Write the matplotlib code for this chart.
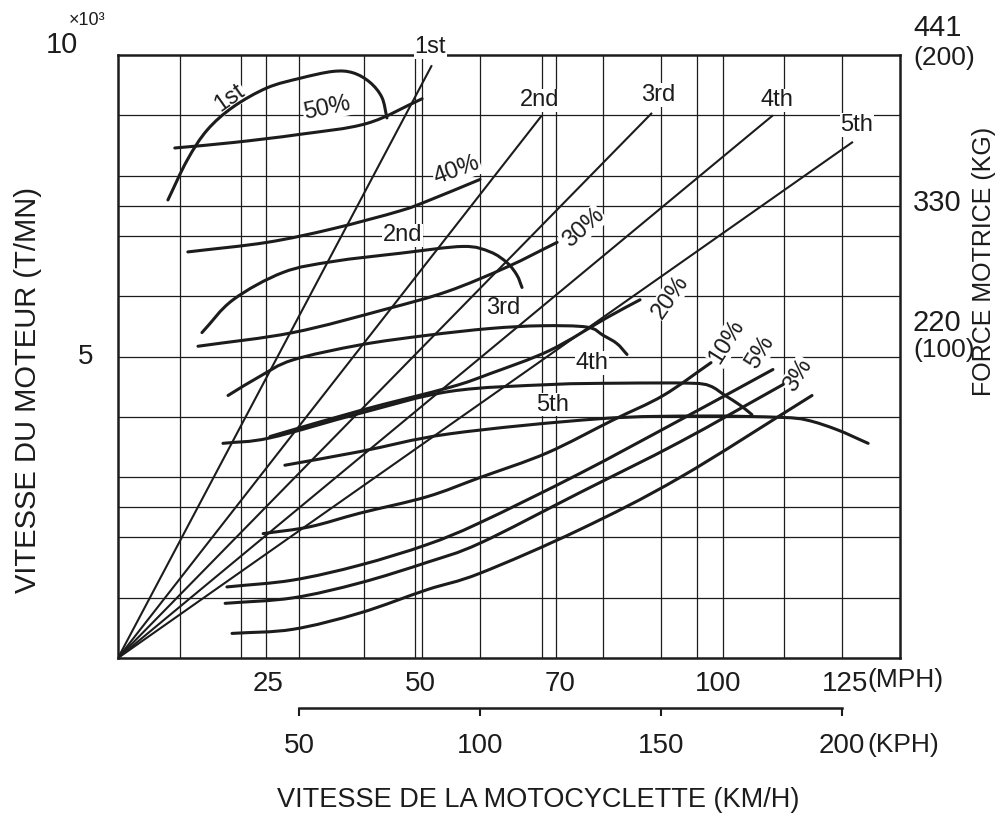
import numpy as np
import matplotlib.pyplot as plt
from matplotlib.path import Path
from matplotlib.patches import PathPatch
import matplotlib.transforms as mtransforms

plt.rcParams['font.family'] = ['Liberation Sans', 'DejaVu Sans']

# speed in km/h, engine speed in 1000 rpm, driving force in kg
gear_names = ['1st', '2nd', '3rd', '4th', '5th']
gear_top_kph = [86.7, 117.1, 147.5, 180.9, 203.0]
gear_top_rpm = [9.83, 9.0, 9.04, 9.0, 8.56]

# driving force curve for each gear
f1_kph = [13.8, 19.1, 24.6, 31.8, 41.2, 50.3, 59.4, 64.9, 69.6, 72.9, 74.3]
f1_kg = [335, 364, 386, 403, 417, 424, 429, 428, 421, 410, 395]
f2_kph = [23.2, 31.8, 45.6, 59.4, 77.9, 95.3, 102.8, 107.5, 110.2, 111.6]
f2_kg = [238, 262, 282, 290, 296, 301, 297, 289, 280, 271]
f3_kph = [30.4, 39.2, 48.3, 66.9, 85.4, 102.8, 117.0, 129.6, 134.0, 137.8, 140.6]
f3_kg = [192, 206, 218, 229, 236, 241, 243, 242, 236, 230, 222]
f4_kph = [29.0, 42.0, 66.9, 91.7, 119.3, 138.7, 158.0, 163.5, 167.7, 171.8, 175.1]
f4_kg = [157, 161, 179, 195, 200, 201, 201, 199, 192, 185, 178]
f5_kph = [46.1, 66.9, 91.7, 133.1, 160.8, 182.9, 190.3, 198.6, 207.2]
f5_kg = [141, 151, 164, 175, 177, 176, 174, 167, 157]

# running resistance on each slope
r50_kph = [15.7, 31.8, 50.3, 68.8, 84.0]
r50_kg = [373, 377, 383, 391, 409]
r40_kph = [19.3, 41.2, 59.4, 77.9, 86.2, 100.0]
r40_kg = [297, 304, 314, 327, 335, 350]
r30_kph = [22.1, 48.3, 73.8, 90.9, 107.5, 121.3]
r30_kg = [228, 238, 255, 268, 286, 304]
r20_kph = [42.0, 66.9, 91.7, 102.8, 119.3, 135.1, 144.2]
r20_kg = [162, 181, 198, 208, 225, 249, 262]
r10_kph = [40.1, 53.0, 66.9, 85.4, 100.0, 118.5, 136.7, 150.6, 163.8]
r10_kg = [91, 96, 106, 118, 132, 150, 174, 192, 216]
r5_kph = [30.1, 48.3, 66.9, 85.4, 100.0, 127.6, 155.2, 180.9]
r5_kg = [52, 57, 68, 83, 99, 135, 174, 211]
r3_kph = [29.6, 48.3, 66.9, 85.4, 100.0, 127.6, 155.2, 183.7]
r3_kg = [40, 44, 55, 70, 84, 121, 158, 200]
r0_kph = [31.5, 48.3, 66.9, 85.4, 100.0, 127.6, 155.2, 191.7]
r0_kg = [18, 21, 33, 50, 62, 94, 132, 192]

# grid of the printed chart
grid_kph = [17, 34, 41, 50, 68, 82, 84, 100, 117, 121, 134, 150, 160, 167, 184, 200]
grid_rpm = [1, 2, 2.5, 3, 4, 5, 6, 7, 7.5, 8, 9]

mph_labels = ['25', '50', '70', '100', '125']
mph_label_kph = [41.5, 83.4, 122.1, 165.7, 200.8]
kph_ticks = [50, 100, 150, 200]

INK = '#1c1c1c'


def smooth_path(xs, ys):
    # Catmull-Rom through the points, handed to matplotlib as cubic Beziers
    p = np.column_stack([xs, ys]).astype(float)
    p = np.vstack([2 * p[0] - p[1], p, 2 * p[-1] - p[-2]])
    verts = [p[1]]
    codes = [Path.MOVETO]
    for i in range(1, len(p) - 2):
        c1 = p[i] + (p[i + 1] - p[i - 1]) / 6
        c2 = p[i + 1] - (p[i + 2] - p[i]) / 6
        verts += [c1, c2, p[i + 1]]
        codes += [Path.CURVE4] * 3
    return Path(verts, codes)


fig = plt.figure(figsize=(9.98, 8.21), dpi=100)
fig.patch.set_facecolor('white')
ax = fig.add_axes([0.1182, 0.1985, 0.7836, 0.7345])
ax.set_xlim(0, 216)
ax.set_ylim(0, 10)

ax.vlines(grid_kph, 0, 10, color=INK, lw=0.9, zorder=1)
ax.hlines(grid_rpm, 0, 216, color=INK, lw=0.9, zorder=1)
for s in ax.spines.values():
    s.set_linewidth(1.8)
    s.set_color(INK)

# gear lines from the origin
for name, xk, yr in zip(gear_names, gear_top_kph, gear_top_rpm):
    ax.plot([0, xk], [0, yr], color=INK, lw=1.5, zorder=3, solid_capstyle='butt')

ax2 = ax.twinx()
ax2.set_ylim(0, 441)
ax2.set_yticks([])
for s in ax2.spines.values():
    s.set_visible(False)

curves = [(f1_kph, f1_kg), (f2_kph, f2_kg), (f3_kph, f3_kg), (f4_kph, f4_kg), (f5_kph, f5_kg),
          (r50_kph, r50_kg), (r40_kph, r40_kg), (r30_kph, r30_kg), (r20_kph, r20_kg),
          (r10_kph, r10_kg), (r5_kph, r5_kg), (r3_kph, r3_kg), (r0_kph, r0_kg)]
for xs, ys in curves:
    ax2.add_patch(PathPatch(smooth_path(xs, ys), fill=False, edgecolor=INK, lw=2.2,
                            capstyle='round', zorder=3))

box = dict(facecolor='white', edgecolor='none', pad=0.5)
# gear labels at the end of each gear line
gear_label_pos = [(86.2, 10.13), (116.6, 9.25), (149.2, 9.34), (182.0, 9.25), (204.1, 8.84)]
for name, (lx, ly) in zip(gear_names, gear_label_pos):
    ax.text(lx, ly, name, fontsize=17, color=INK, ha='center', va='center',
            bbox=box, zorder=5, clip_on=False)

# force curve labels
force_label_pos = [(30.9, 9.29, 35), (78.5, 7.01, 0), (106.4, 5.80, 0), (130.9, 4.89, 0), (119.9, 4.20, 0)]
for name, (lx, ly, rot) in zip(gear_names, force_label_pos):
    ax.text(lx, ly, name, fontsize=17, color=INK, ha='center', va='center', rotation=rot,
            bbox=box, zorder=5)

slope_labels = ['50%', '40%', '30%', '20%', '10%', '5%', '3%']
slope_label_pos = [(57.7, 9.12, 12), (93.6, 8.09, 20), (128.5, 7.13, 42), (152.5, 5.99, 55),
                   (168.2, 5.24, 58), (177.3, 5.07, 58), (187.8, 4.69, 58)]
for name, (lx, ly, rot) in zip(slope_labels, slope_label_pos):
    ax.text(lx, ly, name, fontsize=17, color=INK, ha='center', va='center', rotation=rot,
            bbox=box, zorder=5)

# MPH scale under the frame
ax.set_yticks([])
ax.set_xticks(mph_label_kph, labels=mph_labels)
ax.tick_params(axis='x', length=0, pad=9, labelsize=20, labelcolor=INK)
bx = mtransforms.blended_transform_factory(ax.transData, ax.transAxes)
ax.text(207.0, -0.036, '(MPH)', transform=bx, fontsize=19, color=INK, ha='left', va='center')

# KPH scale
sec = ax.secondary_xaxis(-0.083)
sec.set_xticks(kph_ticks, labels=[str(k) for k in kph_ticks])
sec.spines['bottom'].set_bounds(50, 200)
sec.spines['bottom'].set_linewidth(1.8)
sec.spines['bottom'].set_color(INK)
sec.tick_params(direction='out', length=6, width=1.5, pad=12, labelsize=20, colors=INK)
ax.text(207.0, -0.144, '(KPH)', transform=bx, fontsize=19, color=INK, ha='left', va='center')

# left scale
bl = mtransforms.blended_transform_factory(ax.transAxes, ax.transData)
ax.text(-0.0716, 10.17, '10', transform=bl, fontsize=21, color=INK, ha='center', va='center')
ax.text(-0.040, 10.57, '×10³', transform=bl, fontsize=13, color=INK, ha='center', va='center')
ax.text(-0.042, 5.0, '5', transform=bl, fontsize=20, color=INK, ha='center', va='center')

# right force scale
by = mtransforms.blended_transform_factory(ax2.transAxes, ax2.transData)
right_texts = [('441', 460.8, 21), ('(200)', 438.8, 19), ('330', 332.8, 21),
               ('220', 245.0, 21), ('(100)', 225.3, 19)]
for t, yk, fs in right_texts:
    ax2.text(1.0166, yk, t, transform=by, fontsize=fs, color=INK, ha='left', va='center')

ax.text(-0.115, 0.444, 'VITESSE DU MOTEUR (T/MN)', transform=ax.transAxes, rotation=90,
        fontsize=21, color=INK, ha='center', va='center')
ax.text(1.1074, 0.657, 'FORCE MOTRICE (KG)', transform=ax.transAxes, rotation=90,
        fontsize=18, color=INK, ha='center', va='center')
fig.text(0.539, 0.0256, 'VITESSE DE LA MOTOCYCLETTE (KM/H)', fontsize=19.5, color=INK,
         ha='center', va='center')

fig.savefig('out.png', dpi=100, facecolor='white')
